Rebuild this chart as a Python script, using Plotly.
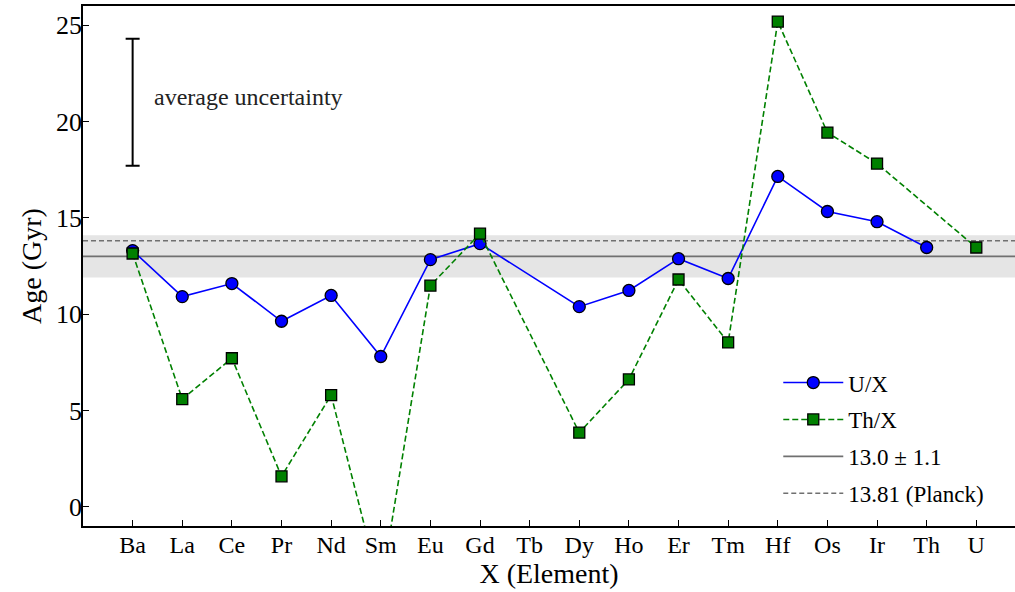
import plotly.graph_objects as go

elements = ["Ba", "La", "Ce", "Pr", "Nd", "Sm", "Eu", "Gd", "Tb", "Dy",
            "Ho", "Er", "Tm", "Hf", "Os", "Ir", "Th", "U"]
age_u = [13.3, 10.91, 11.59, 9.63, 10.97, 7.80, 12.83, 13.66, None, 10.39,
         11.23, 12.88, 11.85, 17.15, 15.33, 14.80, 13.46, None]
age_th = [13.15, 5.59, 7.71, 1.58, 5.80, -4.3, 11.48, 14.18, None, 3.85,
          6.61, 11.80, 8.53, 25.19, 19.43, 17.82, None, 13.46]

mean_age = 13.0
mean_err = 1.1
planck_age = 13.81
avg_unc_x = ["Ba"]
avg_unc_y = [21.0]
avg_unc_err = [3.3]

FONT = "Liberation Serif"

fig = go.Figure()

fig.add_hrect(y0=mean_age - mean_err, y1=mean_age + mean_err,
              fillcolor="#e5e5e5", line_width=0, layer="below")
fig.add_hline(y=mean_age, line=dict(color="#707070", width=1.6),
              layer="below", showlegend=True, name="13.0 ± 1.1", legendrank=3,
              legendgroup="g3")
fig.add_hline(y=planck_age, line=dict(color="#707070", width=1.6, dash="5px,3px"),
              layer="below", showlegend=True, name="13.81 (Planck)", legendrank=4,
              legendgroup="g4")

fig.add_trace(go.Scatter(
    x=elements, y=age_u, name="U/X", mode="lines+markers", connectgaps=True,
    line=dict(color="#0000ff", width=1.6),
    marker=dict(symbol="circle", size=12, color="#0000ff",
                line=dict(color="black", width=1.3)),
    legendrank=1, legendgroup="g1"))
fig.add_trace(go.Scatter(
    x=elements, y=age_th, name="Th/X", mode="lines+markers", connectgaps=True,
    line=dict(color="#008000", width=1.6, dash="6px,3px"),
    marker=dict(symbol="square", size=11, color="#008000",
                line=dict(color="black", width=1.3)),
    legendrank=2, legendgroup="g2"))

fig.add_trace(go.Scatter(
    x=avg_unc_x, y=avg_unc_y, mode="markers", showlegend=False,
    marker=dict(size=1, color="rgba(0,0,0,0)"),
    error_y=dict(type="data", array=avg_unc_err, color="black",
                 thickness=2, width=7)))

fig.add_annotation(x=0.4, y=21.3, xref="x", yref="y", text="average uncertainty",
                   showarrow=False, xanchor="left", yanchor="middle",
                   font=dict(family=FONT, size=24, color="#222"))

fig.update_layout(
    width=1015, height=592,
    margin=dict(l=83, r=0, t=6, b=66),
    plot_bgcolor="white", paper_bgcolor="white",
    font=dict(family=FONT, color="black"),
    showlegend=True,
    legend=dict(x=0.746, y=0.021, xanchor="left", yanchor="bottom",
                bgcolor="rgba(0,0,0,0)", font=dict(family=FONT, size=23),
                itemwidth=60, tracegroupgap=4),
)
fig.update_xaxes(
    type="category", categoryorder="array", categoryarray=elements,
    range=[-1, 17.78], showgrid=False, zeroline=False,
    showline=True, linecolor="black", linewidth=1.5, mirror=True,
    ticks="inside", ticklen=6, tickwidth=1.2, tickcolor="black",
    tickfont=dict(family=FONT, size=24), ticklabelstandoff=-4,
    title=dict(text="X (Element)", font=dict(family=FONT, size=28), standoff=2),
)
fig.update_yaxes(
    range=[-1, 26], tickvals=[0, 5, 10, 15, 20, 25],
    showgrid=False, zeroline=False,
    showline=True, linecolor="black", linewidth=1.5,
    ticks="inside", ticklen=6, tickwidth=1.2, tickcolor="black",
    tickfont=dict(family=FONT, size=26), ticklabelstandoff=-6,
    title=dict(text="Age (Gyr)", font=dict(family=FONT, size=28), standoff=6),
)

fig.write_html("out.html", config={"displayModeBar": False},
               post_script="document.body.style.margin='0';"
                           "document.body.style.overflow='hidden';")
